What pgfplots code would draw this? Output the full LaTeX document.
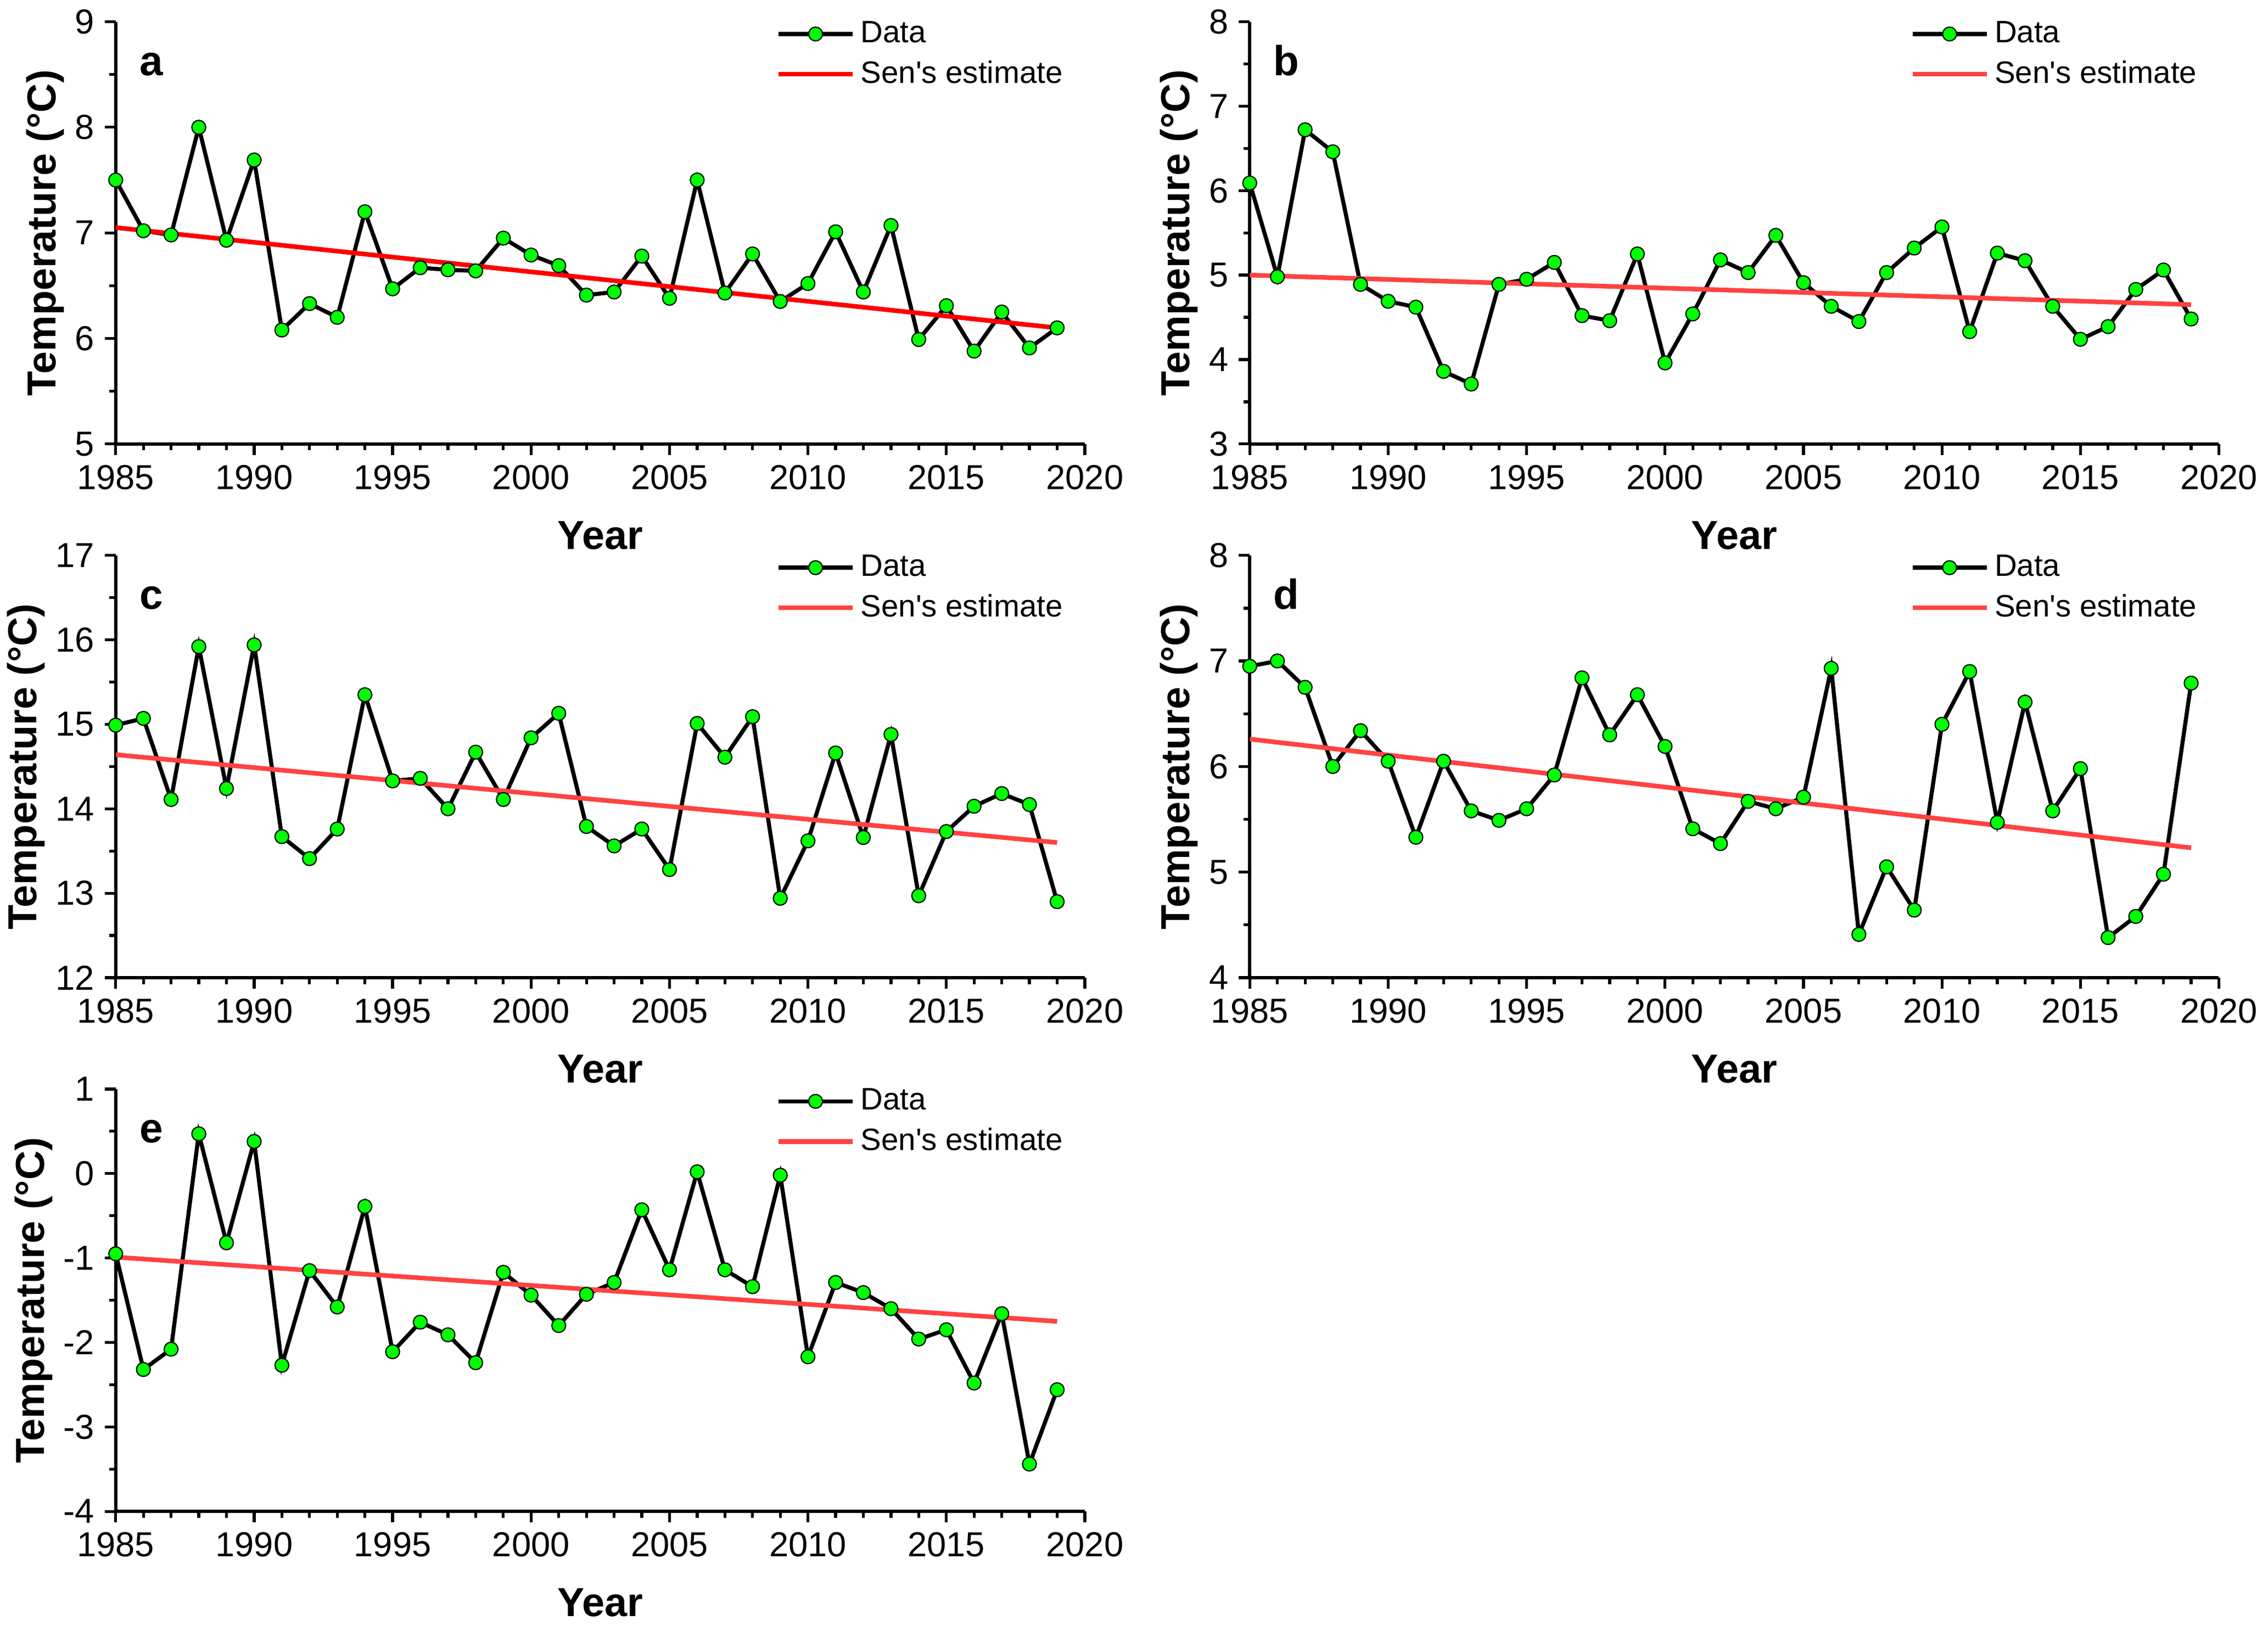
\documentclass[border=0pt]{standalone}
\usepackage{fontspec}
\setmainfont{Liberation Sans}
\usepackage{pgfplots}
\pgfplotsset{compat=1.18}
\definecolor{mkgreen}{RGB}{0,255,0}
\definecolor{senred}{RGB}{255,66,66}

\tikzset{lett/.style={font=\fontsize{14.5pt}{17pt}\selectfont\bfseries, anchor=base west, inner sep=0pt}}
\pgfplotsset{
  panel/.style={
    scale only axis, width=335pt, height=146pt,
    axis lines*=left, axis line style={line width=1.2pt},
    tick align=outside, every tick/.style={black, line width=1pt},
    major tick length=3.8pt, minor tick length=2.2pt,
    xmin=1985, xmax=2020, xtick={1985,1990,...,2020}, minor x tick num=4,
    ytick distance=1, minor y tick num=1,
    /pgf/number format/assume math mode=true,
    /pgf/number format/1000 sep={},
    tick label style={font=\fontsize{12pt}{14pt}\selectfont},
    xlabel={Year}, ylabel={Temperature (°C)},
    label style={font=\fontsize{14pt}{16pt}\selectfont\bfseries},
    xlabel style={yshift=-4pt},
    ylabel style={yshift=-3pt},
    legend style={draw=none, fill=none, at={(0.672,1.03)}, anchor=north west,
      font=\fontsize{10.7pt}{12.5pt}\selectfont, row sep=0.8pt},
    legend cell align=left,
    legend image code/.code={\draw[mark repeat=2,mark phase=2,##1] plot coordinates {(0cm,0cm) (0.45cm,0cm) (0.9cm,0cm)};},
  },
  dataline/.style={black, line width=1.4pt, mark=*, mark size=2.4pt,
    mark options={fill=mkgreen, draw=black, line width=0.4pt}},
  senline/.style={senred, line width=1.6pt, no marks},
}

\begin{document}
\begin{tikzpicture}
\path[use as bounding box] (0,0) rectangle (784pt,-562pt);

% a
\begin{axis}[panel, at={(40pt,-153.5pt)}, ymin=5, ymax=9]
\addplot[dataline] coordinates {
(1985,7.50) (1986,7.02) (1987,6.98) (1988,8.00) (1989,6.93) (1990,7.69) (1991,6.08)
(1992,6.33) (1993,6.20) (1994,7.20) (1995,6.47) (1996,6.67) (1997,6.65) (1998,6.64)
(1999,6.95) (2000,6.79) (2001,6.69) (2002,6.41) (2003,6.44) (2004,6.78) (2005,6.38)
(2006,7.50) (2007,6.43) (2008,6.80) (2009,6.35) (2010,6.52) (2011,7.01) (2012,6.44)
(2013,7.07) (2014,5.99) (2015,6.31) (2016,5.88) (2017,6.25) (2018,5.91) (2019,6.10)};
\addlegendentry{Data}
\addplot[senline, red] coordinates {(1985,7.05) (2019,6.10)};
\addlegendentry{Sen\textquotesingle s estimate}
\node[lett] at (rel axis cs:0.024,0.873) {a};
\end{axis}

% b
\begin{axis}[panel, at={(432pt,-153.5pt)}, ymin=3, ymax=8]
\addplot[dataline] coordinates {
(1985,6.09) (1986,4.98) (1987,6.72) (1988,6.46) (1989,4.89) (1990,4.69) (1991,4.62)
(1992,3.86) (1993,3.71) (1994,4.89) (1995,4.95) (1996,5.15) (1997,4.52) (1998,4.46)
(1999,5.25) (2000,3.96) (2001,4.54) (2002,5.18) (2003,5.03) (2004,5.47) (2005,4.91)
(2006,4.63) (2007,4.45) (2008,5.03) (2009,5.32) (2010,5.57) (2011,4.33) (2012,5.26)
(2013,5.17) (2014,4.63) (2015,4.24) (2016,4.39) (2017,4.83) (2018,5.06) (2019,4.48)};
\addlegendentry{Data}
\addplot[senline] coordinates {(1985,5.00) (2019,4.65)};
\addlegendentry{Sen\textquotesingle s estimate}
\node[lett] at (rel axis cs:0.024,0.873) {b};
\end{axis}

% c
\begin{axis}[panel, at={(40pt,-338pt)}, ymin=12, ymax=17]
\addplot[dataline] coordinates {
(1985,14.99) (1986,15.07) (1987,14.11) (1988,15.92) (1989,14.24) (1990,15.94) (1991,13.67)
(1992,13.41) (1993,13.76) (1994,15.35) (1995,14.33) (1996,14.36) (1997,14.00) (1998,14.67)
(1999,14.11) (2000,14.84) (2001,15.13) (2002,13.79) (2003,13.56) (2004,13.76) (2005,13.28)
(2006,15.01) (2007,14.61) (2008,15.09) (2009,12.94) (2010,13.62) (2011,14.66) (2012,13.66)
(2013,14.88) (2014,12.97) (2015,13.73) (2016,14.03) (2017,14.18) (2018,14.05) (2019,12.90)};
\addlegendentry{Data}
\addplot[senline] coordinates {(1985,14.64) (2019,13.60)};
\addlegendentry{Sen\textquotesingle s estimate}
\node[lett] at (rel axis cs:0.024,0.873) {c};
\end{axis}

% d
\begin{axis}[panel, at={(432pt,-338pt)}, ymin=4, ymax=8]
\addplot[dataline] coordinates {
(1985,6.95) (1986,7.00) (1987,6.75) (1988,6.00) (1989,6.34) (1990,6.05) (1991,5.33)
(1992,6.05) (1993,5.58) (1994,5.49) (1995,5.60) (1996,5.92) (1997,6.84) (1998,6.30)
(1999,6.68) (2000,6.19) (2001,5.41) (2002,5.27) (2003,5.67) (2004,5.60) (2005,5.71)
(2006,6.93) (2007,4.41) (2008,5.05) (2009,4.64) (2010,6.40) (2011,6.90) (2012,5.47)
(2013,6.61) (2014,5.58) (2015,5.98) (2016,4.38) (2017,4.58) (2018,4.98) (2019,6.79)};
\addlegendentry{Data}
\addplot[senline] coordinates {(1985,6.26) (2019,5.23)};
\addlegendentry{Sen\textquotesingle s estimate}
\node[lett] at (rel axis cs:0.024,0.873) {d};
\end{axis}

% e
\begin{axis}[panel, at={(40pt,-522.5pt)}, ymin=-4, ymax=1]
\addplot[dataline] coordinates {
(1985,-0.95) (1986,-2.32) (1987,-2.08) (1988,0.47) (1989,-0.82) (1990,0.38) (1991,-2.27)
(1992,-1.15) (1993,-1.58) (1994,-0.39) (1995,-2.11) (1996,-1.76) (1997,-1.91) (1998,-2.24)
(1999,-1.17) (2000,-1.44) (2001,-1.80) (2002,-1.43) (2003,-1.29) (2004,-0.43) (2005,-1.14)
(2006,0.02) (2007,-1.14) (2008,-1.34) (2009,-0.02) (2010,-2.17) (2011,-1.29) (2012,-1.41)
(2013,-1.60) (2014,-1.96) (2015,-1.85) (2016,-2.48) (2017,-1.66) (2018,-3.44) (2019,-2.56)};
\addlegendentry{Data}
\addplot[senline] coordinates {(1985,-0.99) (2019,-1.75)};
\addlegendentry{Sen\textquotesingle s estimate}
\node[lett] at (rel axis cs:0.024,0.873) {e};
\end{axis}
\end{tikzpicture}
\end{document}
